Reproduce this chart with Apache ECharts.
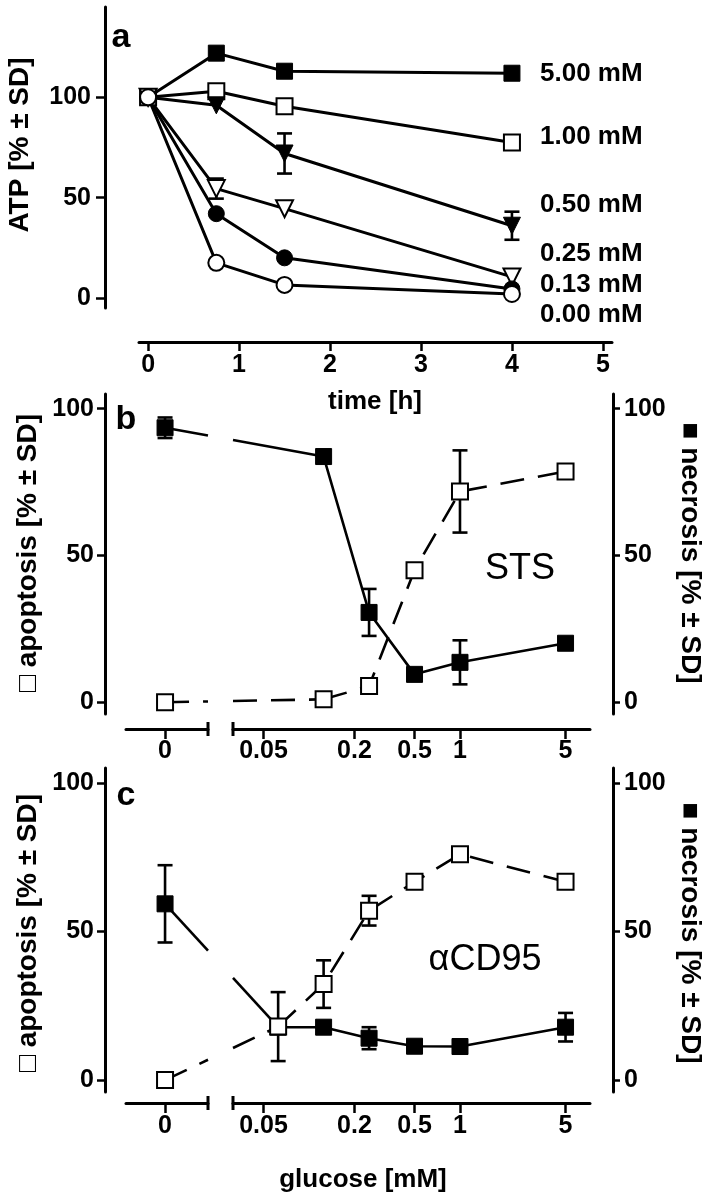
<!DOCTYPE html>
<html><head><meta charset="utf-8">
<script src="https://cdn.jsdelivr.net/npm/echarts@6/dist/echarts.min.js"></script>
<style>html,body{margin:0;padding:0;background:#fff}#c{width:707px;height:1199px}</style>
</head><body><div id="c"></div>
<script>
// ---------- Panel a : ATP vs time ----------
const timeH = [0, 0.75, 1.5, 4];
const atp500 = [100, 122, 113, 112];
const atp100 = [100, 103, 95.5, 77.5];
const atp050 = [100, 96, 72, 36];
const atp050Err = [0, 0, 10, 7];
const atp025 = [100, 54.5, 44.5, 10.5];
const atp025Err = [0, 5, 0, 0];
const atp013 = [100, 42, 20, 4.5];
const atp000 = [100, 17.5, 6.5, 2];
const atpLabels = ['5.00 mM', '1.00 mM', '0.50 mM', '0.25 mM', '0.13 mM', '0.00 mM'];
const timeTicks = [0, 1, 2, 3, 4, 5];
const atpTicks = [0, 50, 100];

// ---------- Panel b : STS ----------
const glucB = [0, 0.125, 0.25, 0.5, 1, 5];
const stsNecrosis = [93.5, 83.7, 30.6, 9.5, 13.6, 20.1];
const stsNecrosisErr = [3.5, 0, 8, 0, 7.5, 0];
const stsApoptosis = [0, 1, 5.5, 45, 71.8, 78.6];
const stsApoptosisErr = [0, 0, 0, 0, 14, 0];

// ---------- Panel c : aCD95 ----------
const glucC = [0, 0.0625, 0.125, 0.25, 0.5, 1, 5];
const cd95Necrosis = [59.3, 17.8, 17.8, 14.1, 11.4, 11.3, 17.8];
const cd95NecrosisErr = [13, 0, 0, 3.7, 0, 0, 4.8];
const cd95Apoptosis = [0, 18, 32.3, 57, 66.7, 76, 66.7];
const cd95ApoptosisErr = [0, 11.6, 8, 5, 0, 0, 0];

const glucoseTicks = [0.05, 0.2, 0.5, 1, 5];
const glucoseTickLabels = ['0.05', '0.2', '0.5', '1', '5'];
const zeroTickLabel = '0';
const percentTicks = [0, 50, 100];

// ---------- styling / layout ----------
const FONT = "'Liberation Sans', Arial, Helvetica, sans-serif";
const BLACK = '#000';
const tickLabelStyle = { fontFamily: FONT, fontWeight: 'bold', fontSize: 25, color: BLACK };
const axisLineStyle = { show: true, onZero: false, lineStyle: { color: BLACK, width: 3 } };
function ticks(vals, len) { return { show: true, customValues: vals, length: len, inside: false, lineStyle: { color: BLACK, width: 2.5 } }; }

const chart = echarts.init(document.getElementById('c'), null, { renderer: 'canvas' });

const grids = [
  { left: 139, top: 7, width: 473, height: 301 },   // a
  { left: 126, top: 394, width: 82, height: 320 },  // b left (0)
  { left: 233, top: 394, width: 357, height: 320 }, // b right (log)
  { left: 126, top: 768, width: 82, height: 324 },  // c left
  { left: 233, top: 768, width: 357, height: 324 }  // c right
];

function glucLabel(v) {
  let best = 0;
  glucoseTicks.forEach((t, i) => { if (Math.abs(Math.log(v / t)) < Math.abs(Math.log(v / glucoseTicks[best]))) best = i; });
  return glucoseTickLabels[best];
}

const xAxes = [
  { gridIndex: 0, type: 'value', min: -0.1, max: 5.1, offset: 34, axisLine: axisLineStyle,
    axisTick: ticks(timeTicks, 9), axisLabel: Object.assign({ customValues: timeTicks, margin: 11 }, tickLabelStyle), splitLine: { show: false } },
  { gridIndex: 1, type: 'value', min: -1, max: 1.1, offset: 15, axisLine: axisLineStyle,
    axisTick: ticks([0], 10), axisLabel: Object.assign({ customValues: [0], margin: 10, formatter: () => zeroTickLabel }, tickLabelStyle), splitLine: { show: false } },
  { gridIndex: 2, type: 'log', min: 0.0314, max: 7.26, offset: 15, axisLine: axisLineStyle,
    axisTick: ticks(glucoseTicks, 10), axisLabel: Object.assign({ customValues: glucoseTicks, margin: 10, formatter: glucLabel }, tickLabelStyle), splitLine: { show: false } },
  { gridIndex: 3, type: 'value', min: -1, max: 1.1, offset: 11, axisLine: axisLineStyle,
    axisTick: ticks([0], 10), axisLabel: Object.assign({ customValues: [0], margin: 11, formatter: () => zeroTickLabel }, tickLabelStyle), splitLine: { show: false } },
  { gridIndex: 4, type: 'log', min: 0.0314, max: 7.26, offset: 11, axisLine: axisLineStyle,
    axisTick: ticks(glucoseTicks, 10), axisLabel: Object.assign({ customValues: glucoseTicks, margin: 11, formatter: glucLabel }, tickLabelStyle), splitLine: { show: false } }
];

const yAxes = [
  { gridIndex: 0, type: 'value', min: -5, max: 145, offset: 34, position: 'left', axisLine: axisLineStyle,
    axisTick: ticks(atpTicks, 9), axisLabel: Object.assign({ customValues: atpTicks, margin: 14 }, tickLabelStyle), splitLine: { show: false } },
  { gridIndex: 1, type: 'value', min: -4, max: 105, offset: 21, position: 'left', axisLine: axisLineStyle,
    axisTick: ticks(percentTicks, 8), axisLabel: Object.assign({ customValues: percentTicks, margin: 11 }, tickLabelStyle), splitLine: { show: false } },
  { gridIndex: 2, type: 'value', min: -4, max: 105, offset: 23, position: 'right', axisLine: axisLineStyle,
    axisTick: ticks(percentTicks, 7), axisLabel: Object.assign({ customValues: percentTicks, margin: 11 }, tickLabelStyle), splitLine: { show: false } },
  { gridIndex: 3, type: 'value', min: -4, max: 105, offset: 21, position: 'left', axisLine: axisLineStyle,
    axisTick: ticks(percentTicks, 8), axisLabel: Object.assign({ customValues: percentTicks, margin: 11 }, tickLabelStyle), splitLine: { show: false } },
  { gridIndex: 4, type: 'value', min: -4, max: 105, offset: 23, position: 'right', axisLine: axisLineStyle,
    axisTick: ticks(percentTicks, 7), axisLabel: Object.assign({ customValues: percentTicks, margin: 11 }, tickLabelStyle), splitLine: { show: false } }
];

function pairs(xs, ys, keep) {
  const out = [];
  xs.forEach((x, i) => { if (keep(x)) out.push([x, ys[i]]); });
  return out;
}
function markerStyle(filled) {
  return filled ? { color: BLACK, borderColor: BLACK, borderWidth: 1 } : { color: '#fff', borderColor: BLACK, borderWidth: 2 };
}
function lineSeries(axis, data, symbol, size, filled, dashed, rotate, lw) {
  return {
    type: 'line', xAxisIndex: axis, yAxisIndex: axis, data: data, symbol: symbol, symbolSize: size,
    symbolRotate: rotate || 0, showAllSymbol: true, z: 3,
    itemStyle: markerStyle(filled),
    lineStyle: { color: BLACK, width: lw || 2.6, type: dashed ? [24, 14] : 'solid' },
    emphasis: { disabled: true }, animation: false
  };
}
function errorSeries(axis, xs, ys, errs, keep) {
  const data = [];
  xs.forEach((x, i) => { if (errs[i] > 0 && keep(x)) data.push([x, ys[i] - errs[i], ys[i] + errs[i]]); });
  return {
    type: 'custom', xAxisIndex: axis, yAxisIndex: axis, data: data, z: 2, animation: false,
    encode: { x: 0, y: [1, 2] },
    renderItem: function (params, api) {
      const x = api.value(0);
      const lo = api.coord([x, api.value(1)]);
      const hi = api.coord([x, api.value(2)]);
      const hw = 7.5;
      const st = { stroke: BLACK, lineWidth: 2.6 };
      return { type: 'group', children: [
        { type: 'line', shape: { x1: lo[0], y1: lo[1], x2: hi[0], y2: hi[1] }, style: st },
        { type: 'line', shape: { x1: lo[0] - hw, y1: lo[1], x2: lo[0] + hw, y2: lo[1] }, style: st },
        { type: 'line', shape: { x1: hi[0] - hw, y1: hi[1], x2: hi[0] + hw, y2: hi[1] }, style: st }
      ] };
    }
  };
}
const all = () => true, isZero = x => x === 0, isPos = x => x > 0;

const series = [];
// panel a
series.push(errorSeries(0, timeH, atp050, atp050Err, all));
series.push(errorSeries(0, timeH, atp025, atp025Err, all));
series.push(lineSeries(0, pairs(timeH, atp500, all), 'rect', 16, true, false, 0, 3));
series.push(lineSeries(0, pairs(timeH, atp100, all), 'rect', 16, false, false, 0, 3));
series.push(lineSeries(0, pairs(timeH, atp050, all), 'triangle', 17, true, false, 180, 3));
series.push(lineSeries(0, pairs(timeH, atp025, all), 'triangle', 17, false, false, 180, 3));
series.push(lineSeries(0, pairs(timeH, atp013, all), 'circle', 16, true, false, 0, 3));
series.push(lineSeries(0, pairs(timeH, atp000, all), 'circle', 16, false, false, 0, 3));

function panelSeries(left, right, xs, nec, necErr, apo, apoErr) {
  series.push(errorSeries(left, xs, nec, necErr, isZero));
  series.push(errorSeries(left, xs, apo, apoErr, isZero));
  series.push(errorSeries(right, xs, nec, necErr, isPos));
  series.push(errorSeries(right, xs, apo, apoErr, isPos));
  series.push(lineSeries(left, pairs(xs, nec, isZero), 'rect', 16, true, false));
  series.push(lineSeries(left, pairs(xs, apo, isZero), 'rect', 16, false, true));
  series.push(lineSeries(right, pairs(xs, nec, isPos), 'rect', 16, true, false));
  series.push(lineSeries(right, pairs(xs, apo, isPos), 'rect', 16, false, true));
}
panelSeries(1, 2, glucB, stsNecrosis, stsNecrosisErr, stsApoptosis, stsApoptosisErr);
panelSeries(3, 4, glucC, cd95Necrosis, cd95NecrosisErr, cd95Apoptosis, cd95ApoptosisErr);

chart.setOption({
  animation: false,
  backgroundColor: '#fff',
  grid: grids,
  xAxis: xAxes,
  yAxis: yAxes,
  series: series
});

// ---------- texts & axis-break connectors ----------
const g = [];
function txt(x, y, text, size, bold, rot, align) {
  g.push({ type: 'text', x: x, y: y, rotation: rot || 0, z: 10,
    style: { text: text, fontFamily: FONT, fontSize: size, fontWeight: bold ? 'bold' : 'normal', fill: BLACK,
      align: align || 'center', verticalAlign: 'middle' } });
}
// right-hand labels of panel a
const atpLabelY = [74, 137, 205, 254, 285, 315];
atpLabels.forEach((t, i) => txt(540, atpLabelY[i], t, 26, true, 0, 'left'));
txt(121, 38, 'a', 34, true);
txt(126, 420, 'b', 34, true);
txt(126, 796, 'c', 34, true);
txt(20, 145, 'ATP [% \u00b1 SD]', 28, true, Math.PI / 2);
txt(375, 402, 'time [h]', 26, true);
txt(28, 553, '\u25a1 apoptosis [% \u00b1 SD]', 28, true, Math.PI / 2);
txt(690, 553, '\u25a0 necrosis [% \u00b1 SD]', 28, true, -Math.PI / 2);
txt(28, 933, '\u25a1 apoptosis [% \u00b1 SD]', 28, true, Math.PI / 2);
txt(690, 933, '\u25a0 necrosis [% \u00b1 SD]', 28, true, -Math.PI / 2);
txt(520, 569, 'STS', 36, false);
txt(485, 960, '\u03b1CD95', 36, false);
txt(363, 1180, 'glucose [mM]', 26, true);

// break caps on the glucose axes
const capStyle = { stroke: BLACK, lineWidth: 3 };
[[1, 2], [3, 4]].forEach(([l, r]) => {
  const gl = grids[l], gr = grids[r];
  const ay = gl.top + gl.height + xAxes[l].offset;
  g.push({ type: 'line', z: 5, shape: { x1: gl.left + gl.width, y1: ay - 7, x2: gl.left + gl.width, y2: ay + 7 }, style: capStyle });
  g.push({ type: 'line', z: 5, shape: { x1: gr.left, y1: ay - 7, x2: gr.left, y2: ay + 7 }, style: capStyle });
});

// connectors from x=0 to first positive concentration, interrupted at the break
function connector(l, r, xs, ys, dashed) {
  const p0 = chart.convertToPixel({ xAxisIndex: l, yAxisIndex: l }, [0, ys[0]]);
  const p1 = chart.convertToPixel({ xAxisIndex: r, yAxisIndex: r }, [xs[1], ys[1]]);
  const gapA = grids[l].left + grids[l].width, gapB = grids[r].left;
  const at = x => { const t = (x - p0[0]) / (p1[0] - p0[0]); return [x, p0[1] + t * (p1[1] - p0[1])]; };
  const a = at(gapA), b = at(gapB);
  const st = { stroke: BLACK, lineWidth: 2.6, lineDash: dashed ? [24, 14] : null };
  g.push({ type: 'line', z: 1, shape: { x1: p0[0], y1: p0[1], x2: a[0], y2: a[1] }, style: st });
  g.push({ type: 'line', z: 1, shape: { x1: b[0], y1: b[1], x2: p1[0], y2: p1[1] }, style: st });
}
connector(1, 2, glucB, stsNecrosis, false);
connector(1, 2, glucB, stsApoptosis, true);
connector(3, 4, glucC, cd95Necrosis, false);
connector(3, 4, glucC, cd95Apoptosis, true);

chart.setOption({ graphic: { elements: g } });
</script>
</body></html>
